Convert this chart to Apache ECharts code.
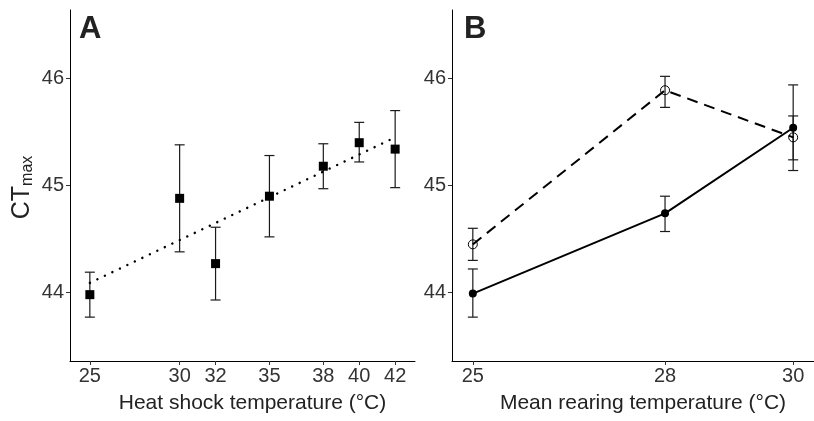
<!DOCTYPE html>
<html>
<head>
<meta charset="utf-8">
<script src="https://cdn.jsdelivr.net/npm/echarts@6/dist/echarts.min.js"></script>
<style>
html,body{margin:0;padding:0;background:#fff;}
#c{width:814px;height:421px;}
</style>
</head>
<body>
<div id="c"></div>
<script>
// Panel A: heat shock temperature
var heatX = [25, 30, 32, 35, 38, 40, 42];
var heatMean = [43.98, 44.88, 44.27, 44.90, 45.18, 45.40, 45.34];
var heatLow = [43.77, 44.38, 43.93, 44.52, 44.97, 45.22, 44.98];
var heatHigh = [44.19, 45.38, 44.61, 45.28, 45.39, 45.59, 45.70];
var trendX = [25, 42];
var trendY = [44.09, 45.45];
var heatTicks = [25, 30, 32, 35, 38, 40, 42];

// Panel B: mean rearing temperature
var rearX = [25, 28, 30];
var solidMean = [43.99, 44.74, 45.54];
var solidLow = [43.77, 44.57, 45.14];
var solidHigh = [44.22, 44.90, 45.94];
var openMean = [44.45, 45.89, 45.45];
var openLow = [44.30, 45.73, 45.24];
var openHigh = [44.60, 46.02, 45.65];
var rearTicks = [25, 28, 30];

var yTicks = [44, 45, 46];

var FONT = "'Liberation Sans', Arial, Helvetica, sans-serif";

function zip2(a, b) { return a.map(function (v, i) { return [v, b[i]]; }); }
function zip3(a, b, c) { return a.map(function (v, i) { return [v, b[i], c[i]]; }); }

function errRender(params, api) {
  var x = api.value(0), lo = api.value(1), hi = api.value(2);
  var p1 = api.coord([x, lo]);
  var p2 = api.coord([x, hi]);
  var hw = 5;
  var st = { stroke: '#1a1a1a', lineWidth: 1.2 };
  return {
    type: 'group',
    children: [
      { type: 'line', shape: { x1: p1[0], y1: p1[1], x2: p2[0], y2: p2[1] }, style: st },
      { type: 'line', shape: { x1: p1[0] - hw, y1: p1[1], x2: p1[0] + hw, y2: p1[1] }, style: st },
      { type: 'line', shape: { x1: p2[0] - hw, y1: p2[1], x2: p2[0] + hw, y2: p2[1] }, style: st }
    ]
  };
}

function xAxisCfg(idx, min, max, ticks, name) {
  return {
    gridIndex: idx, type: 'value', min: min, max: max,
    axisLine: { onZero: false, lineStyle: { color: '#000', width: 1 } },
    axisTick: { customValues: ticks, length: 4, lineStyle: { color: '#333' } },
    axisLabel: { customValues: ticks, fontSize: 20, color: '#333', margin: 5, fontFamily: FONT },
    splitLine: { show: false },
    name: name, nameLocation: 'middle', nameGap: 32,
    nameTextStyle: { fontSize: 21, color: '#222', fontFamily: FONT, padding: [0, 0, 0, 20] }
  };
}
function yAxisCfg(idx, withName) {
  var cfg = {
    gridIndex: idx, type: 'value', min: 43.36, max: 46.64,
    axisLine: { show: true, onZero: false, lineStyle: { color: '#000', width: 1 } },
    axisTick: { show: true, customValues: yTicks, length: 4, lineStyle: { color: '#333' } },
    axisLabel: { customValues: yTicks, fontSize: 20, color: '#333', margin: 6, fontFamily: FONT },
    splitLine: { show: false }
  };
  if (withName) {
    cfg.name = '{a|CT}{b|max}';
    cfg.nameLocation = 'middle';
    cfg.nameRotate = 90;
    cfg.nameGap = 34;
    cfg.nameTextStyle = {
      fontFamily: FONT,
      padding: [0, 4, 0, 0],
      rich: {
        a: { fontSize: 25, lineHeight: 26, color: '#222', fontFamily: FONT, verticalAlign: 'top' },
        b: { fontSize: 16, lineHeight: 16, color: '#222', fontFamily: FONT, verticalAlign: 'bottom', padding: [14, 0, 0, 0] }
      }
    };
  }
  return cfg;
}

var chart = echarts.init(document.getElementById('c'), null, { renderer: 'canvas' });
chart.setOption({
  animation: false,
  backgroundColor: '#fff',
  grid: [
    { left: 70, right: 399, top: 10, bottom: 60 },
    { left: 452, right: -6.4, top: 10, bottom: 60 }
  ],
  xAxis: [
    xAxisCfg(0, 23.895, 43.105, heatTicks, 'Heat shock temperature (°C)'),
    xAxisCfg(1, 24.675, 30.325, rearTicks, 'Mean rearing temperature (°C)')
  ],
  yAxis: [yAxisCfg(0, true), yAxisCfg(1, false)],
  graphic: [
    { type: 'text', left: 79, top: 14, style: { text: 'A', font: 'bold 31px ' + FONT, fill: '#222' } },
    { type: 'text', left: 464, top: 14, style: { text: 'B', font: 'bold 31px ' + FONT, fill: '#222' } }
  ],
  series: [
    { type: 'custom', xAxisIndex: 0, yAxisIndex: 0, renderItem: errRender,
      data: zip3(heatX, heatLow, heatHigh), encode: { x: 0, y: [1, 2] }, z: 1 },
    { type: 'line', xAxisIndex: 0, yAxisIndex: 0, data: zip2(trendX, trendY), showSymbol: false,
      lineStyle: { color: '#000', width: 2.4, type: [0.1, 8.2], cap: 'round' }, z: 2 },
    { type: 'scatter', xAxisIndex: 0, yAxisIndex: 0, data: zip2(heatX, heatMean), symbol: 'rect',
      symbolSize: 9, itemStyle: { color: '#000', opacity: 1 }, z: 3 },

    { type: 'custom', xAxisIndex: 1, yAxisIndex: 1, renderItem: errRender,
      data: zip3(rearX, solidLow, solidHigh), encode: { x: 0, y: [1, 2] }, z: 1 },
    { type: 'custom', xAxisIndex: 1, yAxisIndex: 1, renderItem: errRender,
      data: zip3(rearX, openLow, openHigh), encode: { x: 0, y: [1, 2] }, z: 1 },
    { type: 'line', xAxisIndex: 1, yAxisIndex: 1, data: zip2(rearX, solidMean), symbol: 'circle',
      symbolSize: 8, showSymbol: true, lineStyle: { color: '#000', width: 2 },
      itemStyle: { color: '#000' }, z: 3 },
    { type: 'line', xAxisIndex: 1, yAxisIndex: 1, data: zip2(rearX, openMean), symbol: 'circle',
      symbolSize: 9, showSymbol: true, lineStyle: { color: '#000', width: 2, type: [11, 7] },
      itemStyle: { color: 'rgba(255,255,255,0)', borderColor: '#000', borderWidth: 1 }, z: 3 }
  ]
});
</script>
</body>
</html>
